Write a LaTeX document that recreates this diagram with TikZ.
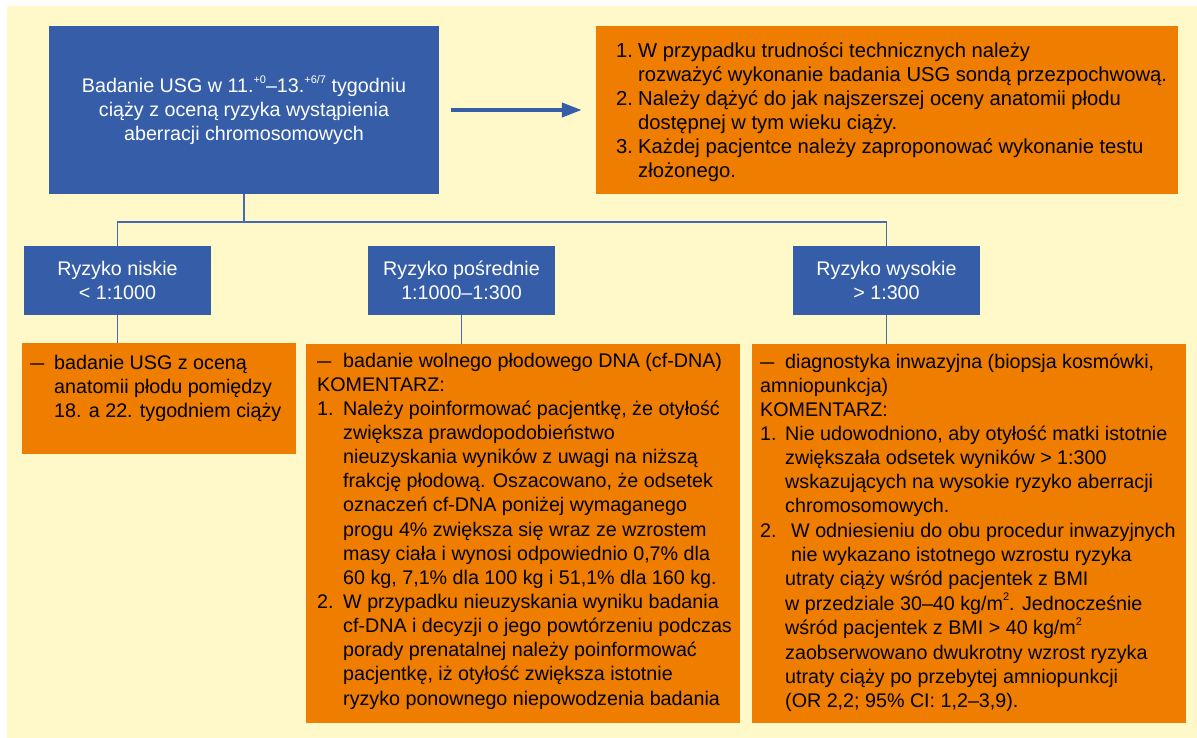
\documentclass[tikz,border=0pt]{standalone}
\usepackage{fontspec}
\setmainfont{Liberation Sans}
\usetikzlibrary{arrows.meta}
\definecolor{cream}{RGB}{255,248,200}
\definecolor{bblue}{RGB}{54,94,168}
\definecolor{ora}{RGB}{238,125,0}
\definecolor{lineblue}{RGB}{70,105,175}
\newcommand\mklab[2]{\makebox[#1][l]{#2}}
\newcommand\supsm[1]{\raisebox{0.5em}{\fontsize{11}{11}\selectfont #1}}
\newcommand\mdash{\scalebox{0.72}[1]{—}}
\begin{document}
\begin{tikzpicture}[x=1pt,y=-1pt,
  bluebox/.style={fill=bblue, text=white, inner sep=0pt, align=center, font=\fontsize{19.7}{24}\selectfont},
  orabox/.style={fill=ora, inner sep=0pt},
  body/.style={inner sep=0pt, anchor=base west, text=black, font=\fontsize{19.7}{24.15}\selectfont},
  conn/.style={draw=lineblue, line width=1.2pt},
  bigarrow/.style={draw=bblue, line width=4pt, -{Triangle[length=20pt,width=14pt]}}]
\useasboundingbox (0,0) rectangle (1197,738);
\fill[cream] (7,6) rectangle (1197,738);

% top row
\node[bluebox, minimum width=390pt, minimum height=168pt] (top) at (244,110)
  {Badanie USG w 11.\supsm{+0}–13.\supsm{+6/7} tygodniu\\ciąży z oceną ryzyka wystąpienia\\aberracji chromosomowych};
\node[orabox, minimum width=582pt, minimum height=168pt] (note) at (887,110) {};
\node[body, font=\fontsize{20.2}{24}\selectfont] (notetxt) at (616,58) {\begin{tabular}[t]{@{}l@{}l@{}}
\mklab{22pt}{1.} & W przypadku trudności technicznych należy\\
 & rozważyć wykonanie badania USG sondą przezpochwową.\\
\mklab{22pt}{2.} & Należy dążyć do jak najszerszej oceny anatomii płodu\\
 & dostępnej w tym wieku ciąży.\\
\mklab{22pt}{3.} & Każdej pacjentce należy zaproponować wykonanie testu\\
 & złożonego.
\end{tabular}};
\draw[bigarrow] ([xshift=12pt]top.east) -- ([xshift=-14pt]note.west);

% risk boxes
\node[bluebox, minimum width=187pt, minimum height=69pt] (lowR) at (117.5,280.5) {Ryzyko niskie\\< 1:1000};
\node[bluebox, minimum width=187pt, minimum height=69pt] (midR) at (461.5,280.5) {Ryzyko pośrednie\\1:1000–1:300};
\node[bluebox, minimum width=187pt, minimum height=69pt] (highR) at (886.5,280.5) {Ryzyko wysokie\\> 1:300};

\coordinate (bar) at (244,222);
\draw[conn] (top.south) -- (bar);
\draw[conn] (lowR.north) |- (bar) -| (highR.north);

% bottom boxes
\node[orabox, minimum width=274pt, minimum height=111pt] (lowO) at (159,398.5) {};
\node[orabox, minimum width=434pt, minimum height=379pt] (midO) at (523,533.5) {};
\node[orabox, minimum width=434pt, minimum height=379pt] (highO) at (969,533.5) {};

\draw[conn] (lowR.south) -- (lowR.south |- lowO.north);
\draw[conn] (midR.south) -- (midR.south |- midO.north);
\draw[conn] (highR.south) -- (highR.south |- highO.north);

\node[body] (lowtxt) at (30,369) {\begin{tabular}[t]{@{}l@{}l@{}}
\mklab{24pt}{\mdash} & badanie USG z oceną\\
 & anatomii płodu pomiędzy\\
 & 18. a 22. tygodniem ciąży
\end{tabular}};

\node[body] (midtxt) at (317,367) {\begin{tabular}[t]{@{}l@{}l@{}}
\mklab{26pt}{\mdash} & badanie wolnego płodowego DNA (cf-DNA)\\
\multicolumn{2}{@{}l@{}}{KOMENTARZ:}\\
\mklab{26pt}{1.} & Należy poinformować pacjentkę, że otyłość\\
 & zwiększa prawdopodobieństwo\\
 & nieuzyskania wyników z uwagi na niższą\\
 & frakcję płodową. Oszacowano, że odsetek\\
 & oznaczeń cf-DNA poniżej wymaganego\\
 & progu 4\% zwiększa się wraz ze wzrostem\\
 & masy ciała i wynosi odpowiednio 0,7\% dla\\
 & 60 kg, 7,1\% dla 100 kg i 51,1\% dla 160 kg.\\
\mklab{26pt}{2.} & W przypadku nieuzyskania wyniku badania\\
 & cf-DNA i decyzji o jego powtórzeniu podczas\\
 & porady prenatalnej należy poinformować\\
 & pacjentkę, iż otyłość zwiększa istotnie\\
 & ryzyko ponownego niepowodzenia badania
\end{tabular}};

\node[body] (hightxt) at (760,368) {\begin{tabular}[t]{@{}l@{}l@{}}
\mklab{25pt}{\mdash} & diagnostyka inwazyjna (biopsja kosmówki,\\
\multicolumn{2}{@{}l@{}}{amniopunkcja)}\\
\multicolumn{2}{@{}l@{}}{KOMENTARZ:}\\
\mklab{25pt}{1.} & Nie udowodniono, aby otyłość matki istotnie\\
 & zwiększała odsetek wyników > 1:300\\
 & wskazujących na wysokie ryzyko aberracji\\
 & chromosomowych.\\
\mklab{25pt}{2.} & \hspace*{6pt}W odniesieniu do obu procedur inwazyjnych\\
 & \hspace*{6pt}nie wykazano istotnego wzrostu ryzyka\\
 & utraty ciąży wśród pacjentek z BMI\\
 & w przedziale 30–40 kg/m\supsm{2}. Jednocześnie\\
 & wśród pacjentek z BMI > 40 kg/m\supsm{2}\\
 & zaobserwowano dwukrotny wzrost ryzyka\\
 & utraty ciąży po przebytej amniopunkcji\\
 & (OR 2,2; 95\% CI: 1,2–3,9).
\end{tabular}};
\end{tikzpicture}
\end{document}
